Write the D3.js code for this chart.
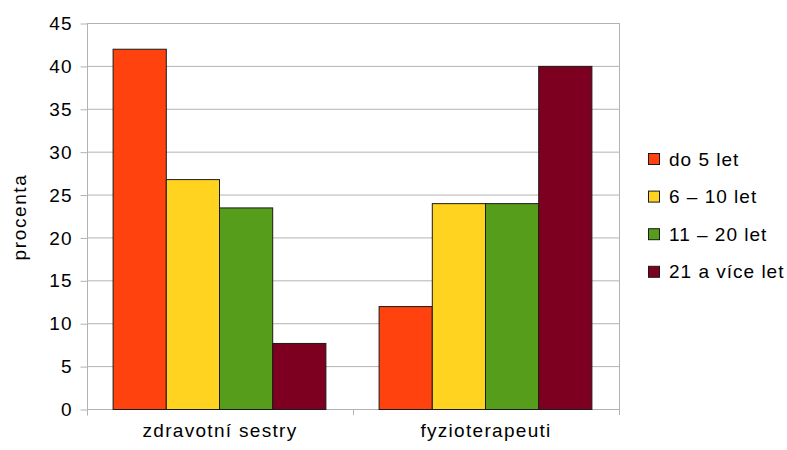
<!DOCTYPE html>
<html>
<head>
<meta charset="utf-8">
<script src="https://cdn.jsdelivr.net/npm/d3@7"></script>
<style>
  html, body { margin: 0; padding: 0; background: #fff; }
  svg { display: block; font-family: "Liberation Sans", Arial, sans-serif; }
</style>
</head>
<body>
<svg id="chart" width="787" height="450"></svg>
<script>
// Categories (professions) and age-of-practice groups
const categories = ["zdravotní sestry", "fyzioterapeuti"];
const seriesNames = ["do 5 let", "6 – 10 let", "11 – 20 let", "21 a více let"];
const seriesColors = ["#ff420e", "#ffd320", "#579d1c", "#7e0021"];

// Percentages per series, one value per category
const doPet = [42.0, 12.0];
const sestDeset = [26.8, 24.0];
const jedenactDvacet = [23.5, 24.0];
const dvacetJednaVice = [7.7, 40.0];
const seriesValues = [doPet, sestDeset, jedenactDvacet, dvacetJednaVice];

const yTicks = [0, 5, 10, 15, 20, 25, 30, 35, 40, 45];
const yLabel = "procenta";

const svg = d3.select("#chart");
const plot = { left: 87, right: 619, top: 23, bottom: 409 };

const x0 = d3.scaleBand().domain(categories).range([plot.left, plot.right]).padding(0);
const x1 = d3.scaleBand().domain(seriesNames).range([0, x0.bandwidth()])
  .paddingInner(0).paddingOuter(0.5);
const y = d3.scaleLinear().domain([0, 45]).range([plot.bottom, plot.top]);
const color = d3.scaleOrdinal().domain(seriesNames).range(seriesColors);

const gridColor = "#b3b3b3";

// Horizontal grid lines
svg.append("g")
  .selectAll("line")
  .data(yTicks)
  .join("line")
  .attr("x1", plot.left).attr("x2", plot.right)
  .attr("y1", d => y(d) + 0.5).attr("y2", d => y(d) + 0.5)
  .attr("stroke", gridColor).attr("stroke-width", 1);

// Right border of plot area
svg.append("line")
  .attr("x1", plot.right + 0.5).attr("x2", plot.right + 0.5)
  .attr("y1", plot.top).attr("y2", plot.bottom + 6)
  .attr("stroke", gridColor);

// Y axis
const yAxis = d3.axisLeft(y).tickValues(yTicks).tickSize(7).tickPadding(8);
const gy = svg.append("g")
  .attr("transform", `translate(${plot.left + 0.5},0.5)`)
  .call(yAxis);
gy.select(".domain").remove();
gy.append("line")
  .attr("x1", 0).attr("x2", 0)
  .attr("y1", y(45) - 0.5).attr("y2", plot.bottom + 6)
  .attr("stroke", gridColor);
gy.selectAll(".tick line").attr("stroke", gridColor);
gy.selectAll(".tick text")
  .attr("fill", "#000")
  .style("font-size", "19px")
  .style("letter-spacing", "1px");

// X axis ticks at category boundaries
const boundaries = [plot.left, plot.left + x0.step(), plot.right];
svg.append("g")
  .selectAll("line")
  .data(boundaries)
  .join("line")
  .attr("x1", d => d + 0.5).attr("x2", d => d + 0.5)
  .attr("y1", plot.bottom).attr("y2", plot.bottom + 6)
  .attr("stroke", gridColor);

// Category labels
svg.append("g")
  .selectAll("text")
  .data(categories)
  .join("text")
  .attr("x", d => x0(d) + x0.bandwidth() / 2)
  .attr("y", 437)
  .attr("text-anchor", "middle")
  .style("font-size", "19px")
  .style("letter-spacing", "1.3px")
  .attr("fill", "#000")
  .text(d => d);

// Bars
const groups = svg.append("g")
  .selectAll("g")
  .data(categories)
  .join("g")
  .attr("transform", d => `translate(${x0(d) - 1},0)`);

groups.selectAll("rect")
  .data((d, i) => seriesNames.map((s, k) => ({ s, v: seriesValues[k][i] })))
  .join("rect")
  .attr("x", d => x1(d.s) + 0.5)
  .attr("y", d => y(d.v) + 0.5)
  .attr("width", x1.bandwidth())
  .attr("height", d => y(0) - y(d.v))
  .attr("fill", d => color(d.s))
  .attr("stroke", "#1a1a1a")
  .attr("stroke-width", 1);

// Y axis title
svg.append("text")
  .attr("transform", "translate(26,217) rotate(-90)")
  .attr("text-anchor", "middle")
  .style("font-size", "19px")
  .style("letter-spacing", "1.6px")
  .attr("fill", "#000")
  .text(yLabel);

// Legend
const legend = svg.append("g")
  .selectAll("g")
  .data(seriesNames)
  .join("g")
  .attr("transform", (d, i) => `translate(648,${159 + i * 37.6})`);

legend.append("rect")
  .attr("x", 0.5).attr("y", -5.5)
  .attr("width", 11).attr("height", 11)
  .attr("fill", d => color(d))
  .attr("stroke", "#1a1a1a");

legend.append("text")
  .attr("x", 21)
  .attr("y", 0)
  .attr("dy", "0.35em")
  .style("font-size", "19px")
  .style("letter-spacing", "1px")
  .attr("fill", "#000")
  .text(d => d);
</script>
</body>
</html>
